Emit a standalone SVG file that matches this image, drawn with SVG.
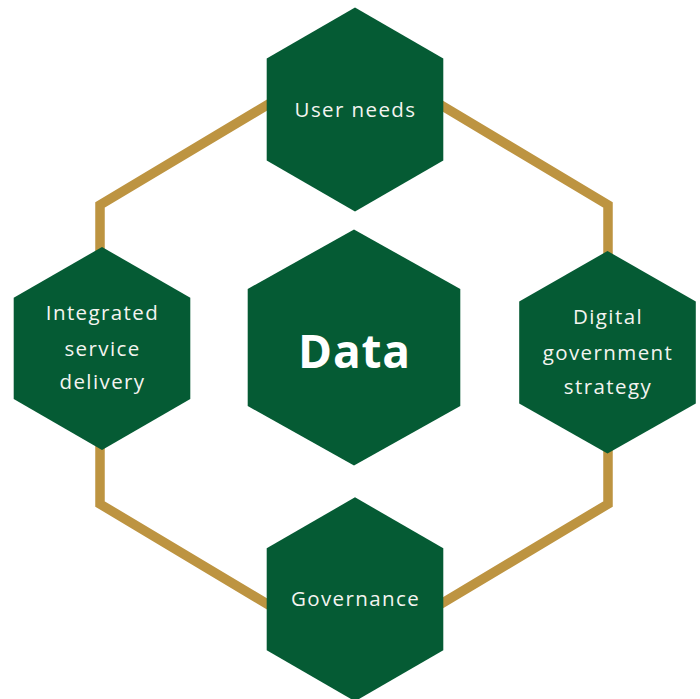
<svg xmlns="http://www.w3.org/2000/svg" width="700" height="699" viewBox="0 0 700 699">
  <defs>
    <style>
      .hex { fill: #055B34; }
      .ring { fill: none; stroke: #BD9441; stroke-width: 9.5; stroke-linejoin: miter; }
      .lbl { font-family: "Open Sans", "DejaVu Sans", sans-serif; font-size: 20.5px; letter-spacing: 1.4px; fill: #F4F4F0; text-anchor: middle; }
      .big { font-family: "Open Sans", "DejaVu Sans", sans-serif; font-size: 46px; font-weight: 700; letter-spacing: 0.8px; fill: #FFFFFF; text-anchor: middle; }
    </style>
  </defs>
  <rect width="700" height="699" fill="#FFFFFF"/>

  <!-- gold ring linking the outer hexagons -->
  <g id="connectors">
    <polygon class="ring" points="354,53 608,205 608,504 354,656 100,504 100,205"/>
  </g>

  <g id="user-needs">
    <polygon class="hex" points="355,7.5 443.3,58.5 443.3,160.5 355,211.5 266.7,160.5 266.7,58.5"/>
    <text class="lbl" x="355.5" y="116.5">User needs</text>
  </g>

  <g id="integrated-service-delivery">
    <polygon class="hex" points="102,247 190.3,297.7 190.3,399 102,450 13.7,399 13.7,297.7"/>
    <text class="lbl" x="102.5" y="320">Integrated</text>
    <text class="lbl" x="102.5" y="355.5">service</text>
    <text class="lbl" x="102.5" y="389">delivery</text>
  </g>

  <g id="digital-government-strategy">
    <polygon class="hex" points="607.5,251 695.8,301.5 695.8,403.5 607.5,453.5 519.2,403.5 519.2,301.5"/>
    <text class="lbl" x="608" y="324">Digital</text>
    <text class="lbl" x="608" y="359.5">government</text>
    <text class="lbl" x="608" y="394">strategy</text>
  </g>

  <g id="governance">
    <polygon class="hex" points="355,497.3 443.3,548.3 443.3,650.3 355,701.3 266.7,650.3 266.7,548.3"/>
    <text class="lbl" x="355.5" y="606">Governance</text>
  </g>

  <g id="data">
    <polygon class="hex" points="354,229.5 460.3,289 460.3,406 354,465.5 247.7,406 247.7,289"/>
    <text class="big" x="354.5" y="368">Data</text>
  </g>
</svg>
